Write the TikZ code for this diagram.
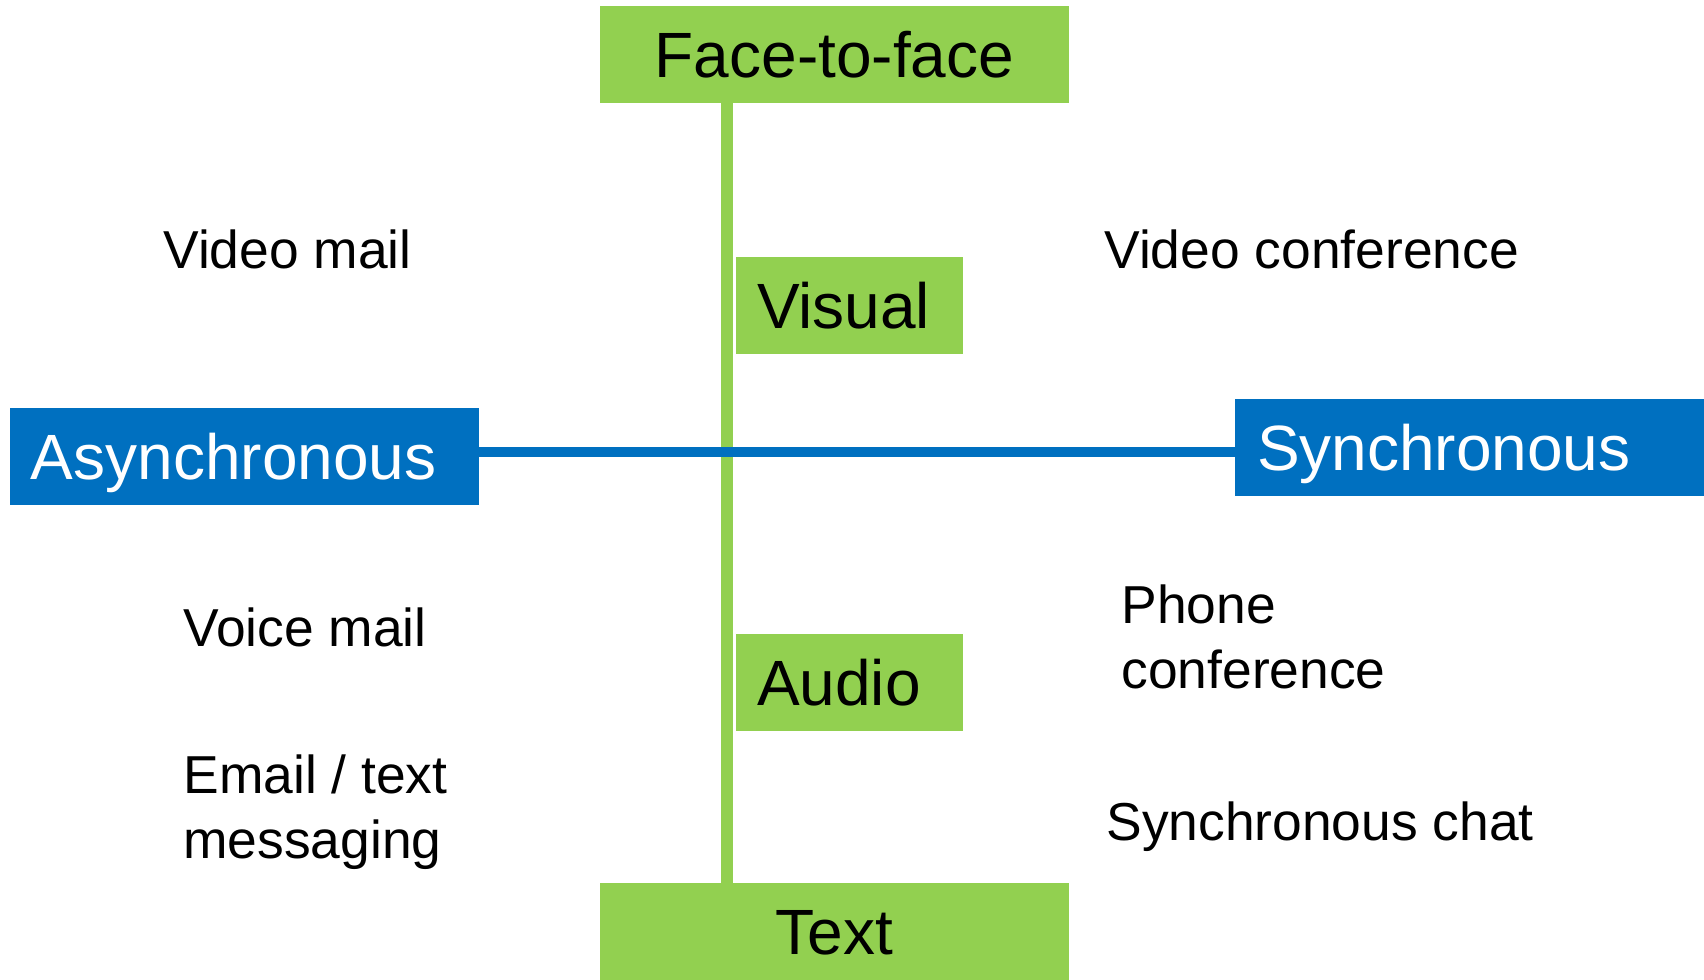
\documentclass[tikz,border=0pt]{standalone}
\usepackage{fontspec}
\setmainfont{Liberation Sans}
\definecolor{mediagreen}{HTML}{92D050}
\definecolor{mediablue}{HTML}{0070C0}
\begin{document}
\begin{tikzpicture}[x=0.5pt,y=-0.5pt,
        every node/.style={inner sep=0pt},
        bigfont/.style={font=\fontsize{32}{40}\selectfont, text height=23pt, text depth=0pt},
        greenbox/.style={fill=mediagreen, bigfont, minimum height=48.5pt},
        bluebox/.style={fill=mediablue, text=white, bigfont, minimum height=48.5pt},
        leftbox/.style={align=left, inner xsep=10.5pt},
        item/.style={font=\fontsize{26.7}{32.5}\selectfont, anchor=base west, align=left}]
        \useasboundingbox (0,0) rectangle (1704,980);
        \coordinate (vx) at (727,0);
        \coordinate (hy) at (0,452);
        % channel axis
        \node[greenbox, minimum width=234.5pt] (face) at (834.5,54.5) {Face-to-face};
        \node[greenbox, minimum width=234.5pt] (text) at (834.5,931.5) {Text};
        \draw[mediagreen, line width=6pt] (face.south -| vx) -- (text.north -| vx);
        \node[greenbox, leftbox, text width=92.5pt] (visual) at (849.5,305) {Visual};
        \node[greenbox, leftbox, text width=92.5pt] (audio) at (849.5,682.5) {Audio};
        % time axis
        \node[bluebox, leftbox, text width=213.5pt] (async) at (244.5,456.5) {Asynchronous};
        \node[bluebox, leftbox, inner xsep=11pt, text width=212.5pt] (sync) at (1469.5,447.5) {Synchronous};
        \draw[mediablue, line width=5pt] (async.east |- hy) -- (sync.west |- hy);
        % media
        \node[item] (vmail) at (163,268) {Video mail};
        \node[item] (vconf) at (1104,268) {Video conference};
        \node[item] (voice) at (183,646) {Voice mail};
        \node[item] (email) at (183,858) {Email / text\\messaging};
        \node[item] (phone) at (1121,688) {Phone\\conference};
        \node[item] (chat) at (1106,840) {Synchronous chat};
\end{tikzpicture}
\end{document}
